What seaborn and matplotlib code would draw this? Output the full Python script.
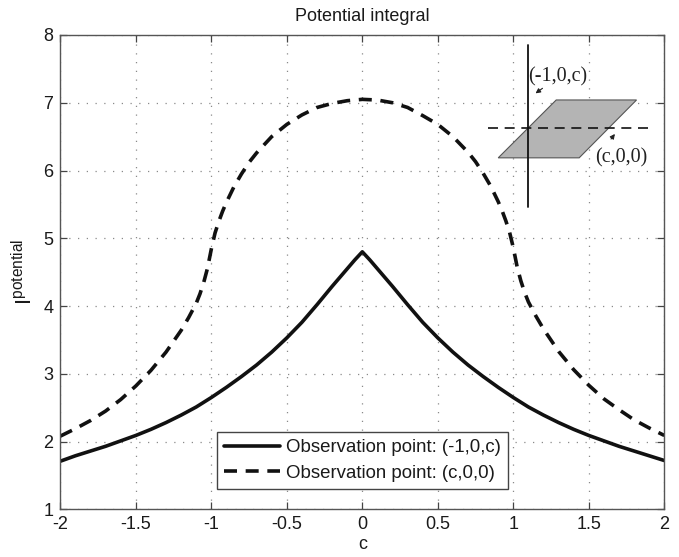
import numpy as np
import pandas as pd
import matplotlib
matplotlib.use("Agg")
import matplotlib.pyplot as plt
import seaborn as sns
from matplotlib.patches import Polygon

# ---------------- data ----------------
c_edge = [-2.0, -1.9, -1.8, -1.7, -1.6, -1.5, -1.4, -1.3, -1.2, -1.1, -1.0,
          -0.9, -0.8, -0.7, -0.6, -0.5, -0.4, -0.3, -0.2, -0.1, -0.05, 0.0,
          0.05, 0.1, 0.2, 0.3, 0.4, 0.5, 0.6, 0.7, 0.8, 0.9, 1.0,
          1.1, 1.2, 1.3, 1.4, 1.5, 1.6, 1.7, 1.8, 1.9, 2.0]
i_edge = [1.71, 1.79, 1.86, 1.93, 2.01, 2.09, 2.18, 2.28, 2.39, 2.51, 2.65,
          2.80, 2.96, 3.13, 3.32, 3.53, 3.76, 4.02, 4.29, 4.55, 4.68, 4.80,
          4.68, 4.55, 4.29, 4.02, 3.76, 3.53, 3.32, 3.13, 2.96, 2.80, 2.65,
          2.51, 2.39, 2.28, 2.18, 2.09, 2.01, 1.93, 1.86, 1.79, 1.72]

c_center = [-2.0, -1.9, -1.8, -1.7, -1.6, -1.5, -1.4, -1.3, -1.2, -1.15, -1.1,
            -1.075, -1.05, -1.025, -1.0, -0.975, -0.95, -0.925, -0.9, -0.85,
            -0.8, -0.75, -0.7, -0.6, -0.5, -0.4, -0.3, -0.2, -0.1, 0.0,
            0.1, 0.2, 0.3, 0.4, 0.5, 0.6, 0.7, 0.75, 0.8, 0.85, 0.9, 0.925,
            0.95, 0.975, 1.0, 1.025, 1.05, 1.075, 1.1, 1.15, 1.2, 1.3, 1.4,
            1.5, 1.6, 1.7, 1.8, 1.9, 2.0]
i_center = [2.08, 2.19, 2.31, 2.45, 2.62, 2.82, 3.05, 3.32, 3.64, 3.83, 4.04,
            4.18, 4.35, 4.56, 4.84, 5.08, 5.25, 5.40, 5.53, 5.76,
            5.95, 6.12, 6.26, 6.50, 6.68, 6.82, 6.93, 6.99, 7.03, 7.05,
            7.04, 7.00, 6.93, 6.81, 6.68, 6.50, 6.27, 6.13, 5.96, 5.77, 5.54, 5.41,
            5.26, 5.09, 4.86, 4.58, 4.37, 4.20, 4.06, 3.85, 3.66, 3.33, 3.06,
            2.83, 2.63, 2.47, 2.32, 2.20, 2.09]

label_edge = "Observation point: (-1,0,c)"
label_center = "Observation point: (c,0,0)"
x_ticks = [-2, -1.5, -1, -0.5, 0, 0.5, 1, 1.5, 2]
x_tick_labels = ["-2", "-1.5", "-1", "-0.5", "0", "0.5", "1", "1.5", "2"]
y_ticks = [1, 2, 3, 4, 5, 6, 7, 8]
y_tick_labels = ["1", "2", "3", "4", "5", "6", "7", "8"]

df_edge = pd.DataFrame({"c": c_edge, "I": i_edge})
df_center = pd.DataFrame({"c": c_center, "I": i_center})

# ---------------- style ----------------
sns.set_theme(style="white")
plt.rcParams["font.family"] = ["Liberation Sans", "DejaVu Sans"]
plt.rcParams["mathtext.fontset"] = "custom"
plt.rcParams["mathtext.rm"] = "Liberation Sans"
plt.rcParams["mathtext.it"] = "Liberation Sans"

fig = plt.figure(figsize=(6.79, 5.57), dpi=100)
ax = fig.add_axes([0.0888, 0.0856, 0.8896, 0.8516])

ink = "#111111"
sns.lineplot(data=df_edge, x="c", y="I", ax=ax, color=ink, lw=2.6,
             estimator=None, sort=False, label=label_edge)
sns.lineplot(data=df_center, x="c", y="I", ax=ax, color=ink, lw=2.6,
             estimator=None, sort=False, linestyle=(0, (3.6, 2.4)),
             label=label_center)

ax.set_xlim(-2, 2)
ax.set_ylim(1, 8)
ax.set_xticks(x_ticks)
ax.set_xticklabels(x_tick_labels)
ax.set_yticks(y_ticks)
ax.set_yticklabels(y_tick_labels)
ax.tick_params(direction="in", length=5, width=0.9, colors="#444444",
               labelcolor="#1a1a1a", labelsize=13, top=True, right=True,
               bottom=True, left=True, pad=5)
for s in ax.spines.values():
    s.set_color("#555555")
    s.set_linewidth(1.0)
ax.grid(True, color="#8a8a8a", linestyle=(0, (1, 6)), linewidth=0.9)

ax.set_title("Potential integral", fontsize=13, color="#1a1a1a", pad=10)
ax.set_xlabel("c", fontsize=13, color="#1a1a1a", labelpad=2)
ax.set_ylabel(r"$\mathregular{I^{potential}}$", fontsize=16, color="#1a1a1a",
              labelpad=4)

leg = ax.legend(loc="lower center", bbox_to_anchor=(0.5, 0.043), fontsize=13.4,
                frameon=True, fancybox=False, handlelength=3.0,
                handletextpad=0.35, labelspacing=0.45, borderpad=0.38,
                borderaxespad=0.0)
leg.get_frame().set_edgecolor("#444444")
leg.get_frame().set_linewidth(1.0)
leg.get_frame().set_facecolor("white")
leg.get_frame().set_alpha(1.0)
for t in leg.get_texts():
    t.set_color("#1a1a1a")

# ---------------- inset diagram (axes-fraction coordinates) ----------------
tr = ax.transAxes
para = Polygon([(0.725, 0.741), (0.821, 0.863), (0.954, 0.863), (0.859, 0.741)],
               closed=True, transform=tr, facecolor="#b4b4b4",
               edgecolor="#555555", linewidth=0.8, zorder=4)
ax.add_patch(para)
ax.plot([0.774, 0.774], [0.638, 0.979], transform=tr, color=ink, lw=1.3,
        zorder=5)
ax.plot([0.708, 0.973], [0.803, 0.803], transform=tr, color=ink, lw=1.2,
        linestyle=(0, (6, 4)), zorder=5)
serif = ["Liberation Serif", "DejaVu Serif"]
ax.text(0.774, 0.912, "(-1,0,c)", transform=tr, fontsize=14.5, family=serif,
        ha="left", va="center", color="#222222", zorder=6)
ax.text(0.886, 0.742, "(c,0,0)", transform=tr, fontsize=14.5, family=serif,
        ha="left", va="center", color="#222222", zorder=6)
ax.annotate("", xy=(0.783, 0.8735), xytext=(0.802, 0.891), xycoords=tr,
            textcoords=tr,
            arrowprops=dict(arrowstyle="-|>", color="#222222", lw=0.8,
                            mutation_scale=7), zorder=6)
ax.annotate("", xy=(0.921, 0.796), xytext=(0.909, 0.776), xycoords=tr,
            textcoords=tr,
            arrowprops=dict(arrowstyle="-|>", color="#222222", lw=0.8,
                            mutation_scale=7), zorder=6)

fig.savefig("out.png", dpi=100, facecolor="white")
